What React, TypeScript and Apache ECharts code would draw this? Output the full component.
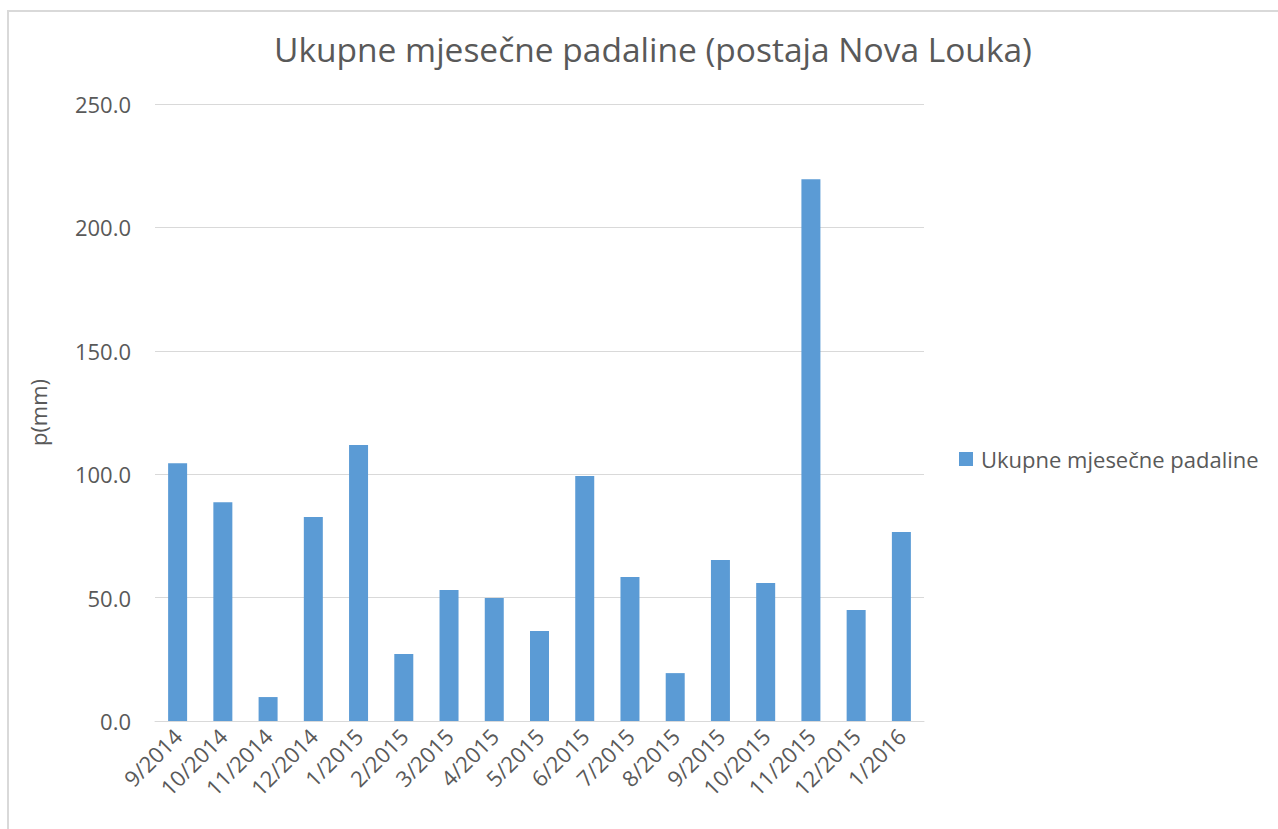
import React, { useEffect, useRef } from "react";
import * as echarts from "echarts";

const categories = [
  "9/2014", "10/2014", "11/2014", "12/2014", "1/2015", "2/2015", "3/2015", "4/2015", "5/2015",
  "6/2015", "7/2015", "8/2015", "9/2015", "10/2015", "11/2015", "12/2015", "1/2016",
];
const precipitation = [
  104.4, 88.6, 9.7, 82.7, 111.8, 27.1, 53.1, 49.8, 36.5,
  99.3, 58.3, 19.4, 65.2, 55.9, 219.5, 45.0, 76.6,
];
const seriesName = "Ukupne mjesečne padaline";
const titleText = "Ukupne mjesečne padaline (postaja Nova Louka)";
const yAxisName = "p(mm)";

const FONT = "'Open Sans', sans-serif";
const GREY = "#595959";

export default function App() {
  const ref = useRef<HTMLDivElement>(null);
  useEffect(() => {
    if (!ref.current) return;
    const chart = echarts.init(ref.current, null, { renderer: "svg" });
    chart.setOption({
      animation: false,
      backgroundColor: "#ffffff",
      textStyle: { fontFamily: FONT },
      title: {
        text: titleText,
        left: 648,
        textAlign: "center",
        top: 27,
        textStyle: { fontFamily: FONT, fontSize: 33.5, fontWeight: "normal", color: GREY },
      },
      graphic: [
        { type: "line", shape: { x1: 7, y1: 11, x2: 1278, y2: 11 }, style: { stroke: "#d9d9d9", lineWidth: 2 } },
        { type: "line", shape: { x1: 8, y1: 10, x2: 8, y2: 829 }, style: { stroke: "#d9d9d9", lineWidth: 2 } },
      ],
      legend: {
        orient: "vertical",
        left: 954,
        top: 443,
        itemWidth: 14,
        itemHeight: 14,
        itemGap: 10,
        icon: "rect",
        data: [seriesName],
        textStyle: { fontFamily: FONT, fontSize: 22, color: GREY, padding: [0, 0, 0, 3] },
      },
      grid: { left: 155, right: 354, top: 104, bottom: 108, containLabel: false },
      xAxis: {
        type: "category",
        data: categories,
        axisLine: { show: true, lineStyle: { color: "#d9d9d9", width: 1 } },
        axisTick: { show: false },
        axisLabel: { rotate: 45, fontSize: 22, color: GREY, fontFamily: FONT, margin: 11, interval: 0 },
      },
      yAxis: {
        type: "value",
        min: 0,
        max: 250,
        interval: 50,
        name: yAxisName,
        nameLocation: "middle",
        nameGap: 106,
        nameRotate: 90,
        nameTextStyle: { fontSize: 22, color: GREY, fontFamily: FONT },
        axisLine: { show: false },
        axisTick: { show: false },
        splitLine: { lineStyle: { color: "#d9d9d9", width: 1 } },
        axisLabel: {
          fontSize: 22,
          color: GREY,
          fontFamily: FONT,
          margin: 24,
          formatter: (v: number) => v.toFixed(1),
        },
      },
      series: [
        {
          name: seriesName,
          type: "bar",
          data: precipitation,
          barCategoryGap: "58%",
          itemStyle: { color: "#5b9bd5" },
        },
      ],
    });
    return () => chart.dispose();
  }, []);
  return (
    <div
      ref={ref}
      style={{ position: "absolute", left: 0, top: 0, width: 1278, height: 829 }}
    />
  );
}
